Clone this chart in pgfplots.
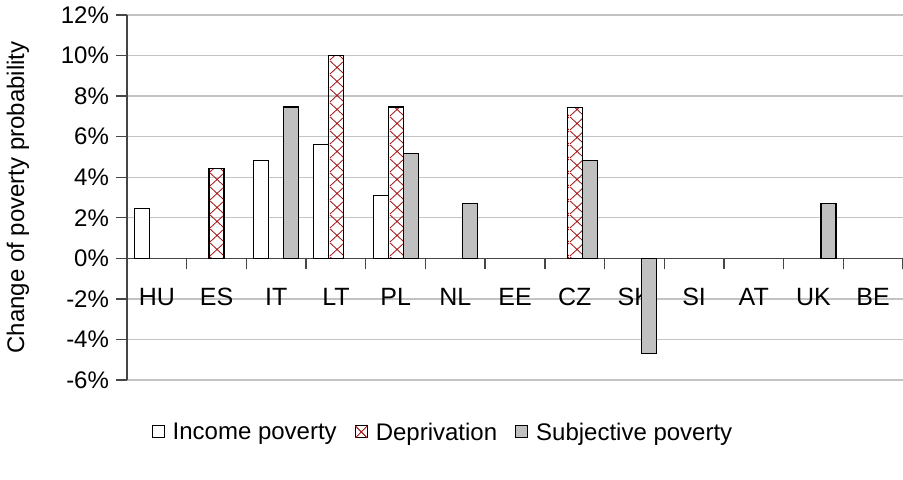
\documentclass[border=0pt]{standalone}
\usepackage{fontspec}
\setmainfont{Liberation Sans}
\usepackage{pgfplots}
\pgfplotsset{compat=1.18}
\usetikzlibrary{patterns.meta}
\definecolor{hatchred}{RGB}{165,25,25}
\definecolor{bargray}{RGB}{192,192,192}
\definecolor{gridgray}{RGB}{195,195,195}
\definecolor{axisgray}{RGB}{70,70,70}
\tikzdeclarepattern{
  name=diamondhatch,
  type=uncolored,
  bottom left={(0pt,0pt)}, top right={(7.5pt,7pt)},
  tile size={(7.5pt,7pt)},
  code={\draw[line width=0.45pt] (0pt,0pt) -- (7.5pt,7pt) (0pt,7pt) -- (7.5pt,0pt);}
}
\begin{document}
\begin{tikzpicture}
\begin{axis}[
  at={(0,0)}, anchor=south west,
  scale only axis, width=388pt, height=182.5pt,
  xmin=-0.5, xmax=12.5, ymin=-6, ymax=12,
  ybar=0pt, bar width=7.5pt,
  axis x line=middle, axis y line=left,
  axis line style={-, axisgray, line width=0.7pt},
  xtick={0,...,12},
  xticklabels={HU,ES,IT,LT,PL,NL,EE,CZ,SK,SI,AT,UK,BE},
  minor xtick={-0.5,0.5,...,12.5},
  major x tick style={draw=none},
  minor x tick style={axisgray, line width=0.7pt},
  ytick={-6,-4,...,12},
  yticklabels={-6\%,-4\%,-2\%,0\%,2\%,4\%,6\%,8\%,10\%,12\%},
  ytick style={axisgray, line width=0.7pt},
  tick align=outside,
  major tick length=5.5pt, minor tick length=5.5pt,
  ymajorgrids, major grid style={gridgray, line width=0.7pt},
  xticklabel style={font=\fontsize{12.5}{14}\selectfont, anchor=base, yshift=-18pt},
  yticklabel style={font=\fontsize{12}{14}\selectfont},
  ylabel={Change of poverty probability},
  every axis y label/.style={at={(axis description cs:-0.1405,0.5)}, rotate=90, anchor=center,
    font=\fontsize{12}{14}\selectfont},
  legend style={at={(0.4085,-0.145)}, anchor=center, draw=none, legend columns=-1,
    font=\fontsize{12}{14}\selectfont,
    /tikz/every odd column/.append style={column sep=2pt},
    /tikz/every even column/.append style={column sep=7pt}},
]
\addplot[draw=black, fill=white, line width=0.6pt,
  legend image code/.code={\draw[black, fill=white, line width=0.5pt] (0pt,-2.5pt) rectangle (6pt,3.5pt);}]
  coordinates {(0,2.44) (2,4.82) (3,5.63) (4,3.11)};
\addlegendentry{Income poverty}
\addplot[draw=black, pattern={diamondhatch}, pattern color=hatchred, line width=0.6pt,
  legend image code/.code={\draw[black, fill=white, line width=0.5pt] (0pt,-2.5pt) rectangle (6pt,3.5pt);
    \draw[hatchred, line width=0.5pt] (0pt,-2.5pt) -- (6pt,3.5pt) (0pt,3.5pt) -- (6pt,-2.5pt);}]
  coordinates {(1,4.43) (3,9.99) (4,7.46) (7,7.43)};
\addlegendentry{Deprivation}
\addplot[draw=black, fill=bargray, line width=0.6pt,
  legend image code/.code={\draw[black, fill=bargray, line width=0.5pt] (0pt,-2.5pt) rectangle (6pt,3.5pt);}]
  coordinates {(2,7.46) (4,5.19) (5,2.70) (7,4.84) (8,-4.71) (11,2.70)};
\addlegendentry{Subjective poverty}
\end{axis}
\pgfresetboundingbox
\useasboundingbox (-63.5pt,-49.5pt) rectangle (388pt,190pt);
\end{tikzpicture}
\end{document}
